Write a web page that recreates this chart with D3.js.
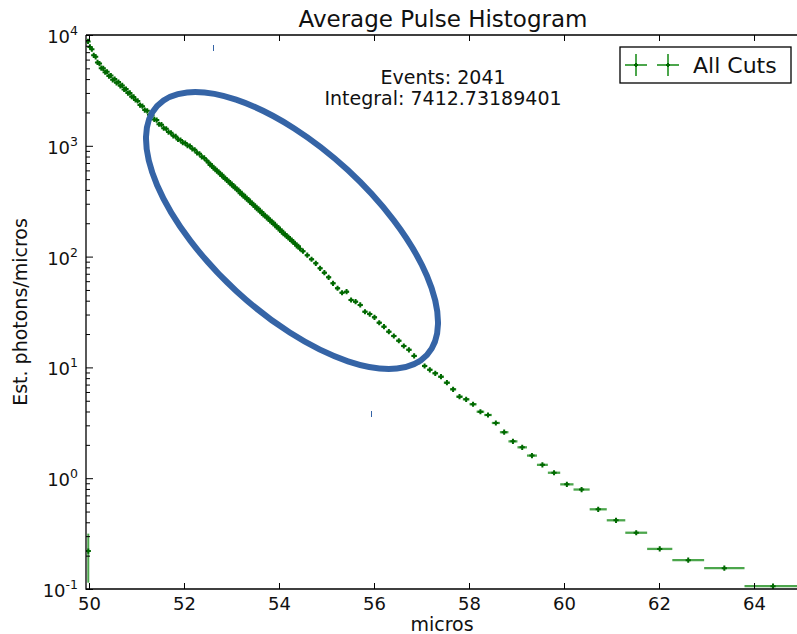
<!DOCTYPE html>
<html>
<head>
<meta charset="utf-8">
<script src="https://cdn.jsdelivr.net/npm/d3@7"></script>
<style>
  html, body { margin: 0; padding: 0; background: #fff; }
  svg { display: block; font-family: "DejaVu Sans", sans-serif; }
</style>
</head>
<body>
<svg id="chart" width="797" height="634"></svg>
<script>
// ---------------- data ----------------
const title = "Average Pulse Histogram";
const xLabel = "micros";
const yLabel = "Est. photons/micros";
const legendLabel = "All Cuts";
const annotation = ["Events: 2041", "Integral: 7412.73189401"];

const xTicks = [50, 52, 54, 56, 58, 60, 62, 64];
const yTicks = [0.1, 1, 10, 100, 1000, 10000];
const yTickExponents = ["-1", "0", "1", "2", "3", "4"];

// histogram bin edges (micros)
const binEdges = [
  49.96,50.00,50.04,50.08,50.12,50.16,50.20,50.24,50.28,50.32,50.36,50.40,50.44,50.48,50.52,50.56,50.60,50.64,50.68,50.72,50.76,50.80,50.84,50.88,50.92,50.96,51.00,
  51.05,51.10,51.15,51.20,51.25,51.30,51.35,51.40,51.45,51.50,51.55,51.60,51.65,51.70,51.75,51.80,51.85,51.90,51.95,52.00,52.05,52.10,52.15,52.20,52.25,52.30,52.35,52.40,52.45,52.50,
  52.535,52.57,52.605,52.64,52.675,52.71,52.745,52.78,52.815,52.85,52.885,52.92,52.955,52.99,53.025,53.06,53.095,53.13,53.165,53.20,
  53.235,53.27,53.305,53.34,53.375,53.41,53.445,53.48,53.515,53.55,53.585,53.62,53.655,53.69,53.725,53.76,53.795,53.83,53.865,53.90,
  53.935,53.97,54.005,54.04,54.075,54.11,54.145,54.18,54.215,54.25,54.285,54.32,54.355,54.39,54.425,54.46,
  54.55,54.64,54.73,54.82,54.91,55.00,55.09,55.185,55.28,55.375,55.47,55.565,55.66,55.76,55.86,55.96,56.06,56.16,56.26,56.365,56.47,56.575,56.68,56.79,56.90,57.01,
  57.12,57.23,57.35,57.47,57.60,57.73,57.87,58.01,58.16,58.32,58.48,58.65,58.83,59.02,59.22,59.43,59.66,59.92,
  60.20,60.54,60.90,61.29,61.75,62.28,62.95,63.80,65.00
];
// estimated photons/micros per bin
const binValues = [
  8750,7800,7450,6550,6350,5650,5520,5020,5000,4620,4650,4260,4300,3940,4000,3700,3760,3480,3510,3230,3250,2990,3000,2770,2760,2590,
  2540,2330,2280,2100,2070,1905,1880,1730,1705,1565,1550,1440,1425,1330,1310,1230,1215,1142,1128,1066,1058,1005,995,940,920,865,846,795,778,736,
  705,672,662,630,621,590,583,553,548,518,512,486,481,455,451,428,423,401,398,374,
  372,351,349,330,327,309,306,290,287,271,270,254,252,238,236,224,222,210,208,197,
  195,184,183,172,171,161,160,152,150,143,141,134,132,125,124,118,
  112,103,94.6,87,78.4,71.6,65,57.4,51.8,47.2,48.2,40.6,39.2,36.6,31.8,30.3,28.3,25.3,23.3,21,19.2,17.4,15.6,14.4,12.7,11.25,
  10.3,9.5,8.85,8.24,7.28,6.34,5.44,5.15,4.65,3.98,3.72,3.15,2.6,2.15,1.9,1.6,1.32,1.12,
  0.88,0.79,0.524,0.417,0.322,0.23,0.182,0.154,0.106
];
// the lone low bin at the start, with its vertical error bar
const lowBinX = [49.985];
const lowBinY = [0.22];
const lowBinErrLo = [0.114];
const lowBinErrHi = [0.316];

// ---------------- layout ----------------
const plot = { left: 86, right: 800, top: 35, bottom: 589 };
const green = "#008000";
const markGreen = "#006800";

const svg = d3.select("#chart");
const x = d3.scaleLinear().domain([49.937, 64.968]).range([plot.left, plot.right]);
const y = d3.scaleLog().domain([0.1, 10000]).range([plot.bottom, plot.top]);

svg.append("defs").append("clipPath").attr("id", "clip")
  .append("rect").attr("x", plot.left).attr("y", plot.top)
  .attr("width", plot.right - plot.left).attr("height", plot.bottom - plot.top);

// ---------------- data marks ----------------
const n = Math.min(binValues.length, binEdges.length - 1);
const bins = d3.range(n).map(i => ({
  x0: binEdges[i], x1: binEdges[i + 1], xc: (binEdges[i] + binEdges[i + 1]) / 2, v: binValues[i]
}));

const g = svg.append("g").attr("clip-path", "url(#clip)");

g.selectAll("line.xerr").data(bins).join("line")
  .attr("class", "xerr")
  .attr("x1", d => x(d.x0)).attr("x2", d => x(d.x1))
  .attr("y1", d => y(d.v)).attr("y2", d => y(d.v))
  .attr("stroke", green).attr("stroke-opacity", 0.7).attr("stroke-width", 2.3);

const lows = lowBinX.map((v, i) => ({ x: v, y: lowBinY[i], lo: lowBinErrLo[i], hi: lowBinErrHi[i] }));
g.selectAll("line.yerr").data(lows).join("line")
  .attr("class", "yerr")
  .attr("x1", d => x(d.x)).attr("x2", d => x(d.x))
  .attr("y1", d => y(d.lo)).attr("y2", d => y(d.hi))
  .attr("stroke", green).attr("stroke-opacity", 0.7).attr("stroke-width", 2);

const markerPts = bins.map(d => ({ x: d.xc, y: d.v })).concat(lows.map(d => ({ x: d.x, y: d.y })));
const ms = 2.6;
g.selectAll("path.mk").data(markerPts).join("path")
  .attr("class", "mk")
  .attr("d", d => {
    const px = x(d.x), py = y(d.y);
    return `M${px - ms},${py}H${px + ms}M${px},${py - ms}V${py + ms}`;
  })
  .attr("stroke", markGreen).attr("stroke-width", 2).attr("fill", "none");

// ---------------- axes ----------------
const axisG = svg.append("g");

// bottom
const xb = axisG.append("g").attr("transform", `translate(0,${plot.bottom})`)
  .call(d3.axisBottom(x).tickValues(xTicks).tickSize(-6).tickPadding(8).tickFormat(d3.format("d")));
xb.select(".domain").remove();
xb.selectAll("line").attr("stroke", "#000");
xb.selectAll("text").attr("font-size", 18).attr("fill", "#111").attr("font-family", "DejaVu Sans");

// top
const xt = axisG.append("g").attr("transform", `translate(0,${plot.top})`)
  .call(d3.axisTop(x).tickValues(xTicks).tickSize(-6).tickFormat(""));
xt.select(".domain").remove();
xt.selectAll("line").attr("stroke", "#000");

// left major
const yl = axisG.append("g").attr("transform", `translate(${plot.left},0)`)
  .call(d3.axisLeft(y).tickValues(yTicks).tickSize(-7).tickFormat(""));
yl.select(".domain").remove();
yl.selectAll("line").attr("stroke", "#000");

// left minor
const minorTicks = [];
yTicks.slice(0, -1).forEach(t => { for (let k = 2; k <= 9; k++) minorTicks.push(t * k); });
const ym = axisG.append("g").attr("transform", `translate(${plot.left},0)`)
  .call(d3.axisLeft(y).tickValues(minorTicks).tickSize(-4).tickFormat(""));
ym.select(".domain").remove();
ym.selectAll("line").attr("stroke", "#000");

// y tick labels with superscripts
yTicks.forEach((t, i) => {
  const tx = svg.append("text")
    .attr("x", 78).attr("y", y(t) + 8)
    .attr("text-anchor", "end").attr("fill", "#111");
  tx.append("tspan").attr("font-size", 18).text("10");
  tx.append("tspan").attr("font-size", 12.5).attr("dy", -8).text(yTickExponents[i]);
});

// spines
axisG.append("path")
  .attr("d", `M${plot.left},${plot.top}H${plot.right}M${plot.left},${plot.top}V${plot.bottom}H${plot.right}`)
  .attr("stroke", "#000").attr("stroke-width", 1.3).attr("fill", "none");

// ---------------- texts ----------------
svg.append("text").attr("x", 443).attr("y", 27).attr("text-anchor", "middle")
  .attr("font-size", 23).attr("fill", "#111").text(title);
svg.append("text").attr("x", 442).attr("y", 631).attr("text-anchor", "middle")
  .attr("font-size", 19).attr("fill", "#111").text(xLabel);
svg.append("text").attr("transform", `translate(27,312) rotate(-90)`).attr("text-anchor", "middle")
  .attr("font-size", 19).attr("fill", "#111").text(yLabel);
annotation.forEach((s, i) => {
  svg.append("text").attr("x", 443).attr("y", 84 + i * 21).attr("text-anchor", "middle")
    .attr("font-size", 19).attr("fill", "#111").text(s);
});

// ---------------- legend ----------------
const lg = svg.append("g");
lg.append("rect").attr("x", 620).attr("y", 47).attr("width", 171).attr("height", 36)
  .attr("fill", "#fff").attr("stroke", "#000").attr("stroke-width", 1.3);
[636, 668].forEach(cx => {
  lg.append("path").attr("d", `M${cx - 11},65H${cx + 11}M${cx},54V76`)
    .attr("stroke", green).attr("stroke-opacity", 0.7).attr("stroke-width", 2);
  lg.append("path").attr("d", `M${cx - 2},65H${cx + 2}M${cx},63V67`)
    .attr("stroke", markGreen).attr("stroke-width", 2);
});
lg.append("text").attr("x", 693).attr("y", 73).attr("font-size", 22).attr("fill", "#111").text(legendLabel);

// ---------------- blue hand-drawn ellipse ----------------
svg.append("ellipse")
  .attr("cx", 292).attr("cy", 230.5).attr("rx", 183.6).attr("ry", 82.3)
  .attr("transform", "rotate(42.7,292,230.5)")
  .attr("fill", "none").attr("stroke", "#3564a6").attr("stroke-width", 6);
// two small blue marks
svg.append("path").attr("d", "M213.5,45V51M371.5,411V417")
  .attr("stroke", "#3564a6").attr("stroke-width", 1);
</script>
</body>
</html>
